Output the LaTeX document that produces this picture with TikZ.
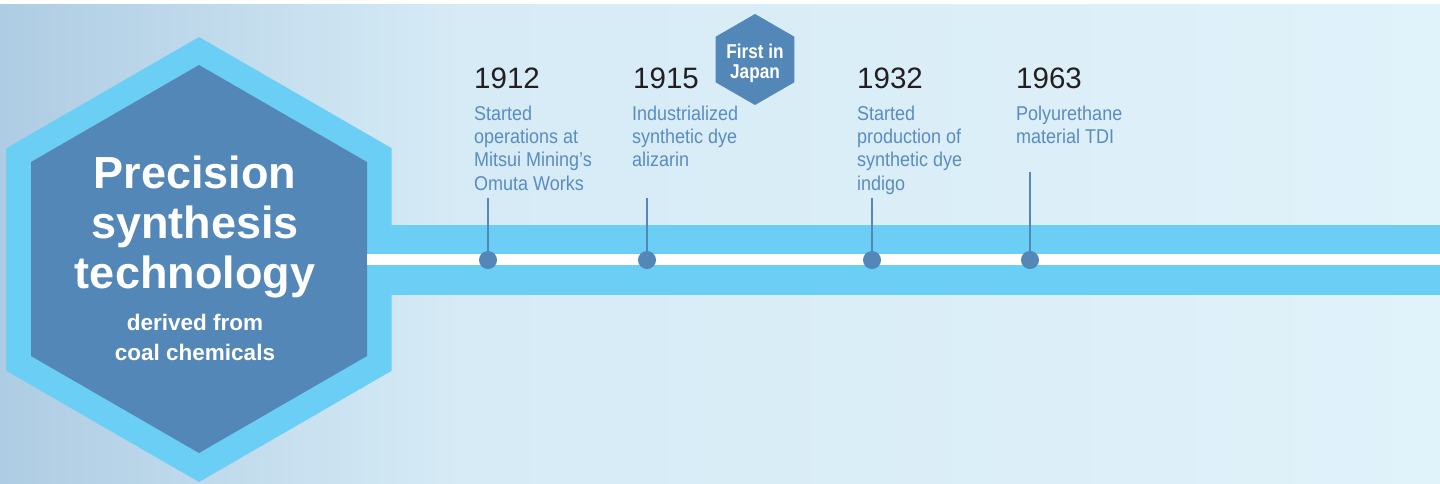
\documentclass[tikz,border=0pt]{standalone}
\usepackage{fontspec}
\setmainfont{Liberation Sans}
\newfontfamily\condfont[FakeStretch=0.9]{Liberation Sans}
\newfontfamily\bcondfont[FakeStretch=0.86]{Liberation Sans}
\definecolor{bgleft}{HTML}{AECCE3}
\definecolor{bgmid}{HTML}{D6EBF6}
\definecolor{bgright}{HTML}{E0F2FA}
\definecolor{lightband}{HTML}{6BCEF4}
\definecolor{darkhex}{HTML}{5387B8}
\definecolor{desccol}{HTML}{5A8CC0}
\definecolor{yearcol}{HTML}{231F20}
\tikzset{
  yearlabel/.style={anchor=base west, inner sep=0pt, text=yearcol, font=\fontsize{29.5}{33}\selectfont},
  desclabel/.style={anchor=north west, inner sep=0pt, align=left, text=desccol, font=\condfont\fontsize{20}{23.3}\selectfont},
  dotmark/.style={circle, fill=darkhex, inner sep=0pt, minimum size=18pt},
  stemline/.style={draw=darkhex, line width=1.5pt},
}
\begin{document}
\begin{tikzpicture}[x=1pt, y=-1pt]
\useasboundingbox (0,0) rectangle (1440,483);
% background
\fill[white] (0,0) rectangle (1440,483);
\shade[left color=bgleft, right color=bgmid] (0,4) rectangle (460,483);
\shade[left color=bgmid, right color=bgright] (459.5,4) rectangle (1440,483);
% outer hexagon
\fill[lightband] (199,37) -- (391.7,148.25) -- (391.7,370.75) -- (199,482) -- (6.3,370.75) -- (6.3,148.25) -- cycle;
% band
\fill[lightband] (385,225) rectangle (1440,295);
% inner hexagon
\fill[darkhex] (199,65) -- (367,162) -- (367,356) -- (199,453) -- (31,356) -- (31,162) -- cycle;
% white line
\fill[white] (367,254) rectangle (1440,265);
% title
\node[anchor=north, inner sep=0pt, align=center, text=white, font=\bfseries\fontsize{45}{50}\selectfont] (title) at (195,155.5) {Precision\\synthesis\\technology};
\node[anchor=north, inner sep=0pt, align=center, text=white, font=\bfseries\fontsize{22.5}{30}\selectfont] (subtitle) at (195,314) {derived from\\coal chemicals};
% first in japan hexagon
\fill[darkhex] (755,14) -- (794.4,36.75) -- (794.4,82.25) -- (755,105) -- (715.6,82.25) -- (715.6,36.75) -- cycle;
\node[anchor=north, inner sep=0pt, align=center, text=white, font=\bcondfont\bfseries\fontsize{20}{20.5}\selectfont] (first) at (755,43.5) {First in\\Japan};
% dots
\node[dotmark] (d1) at (488,260) {};
\node[dotmark] (d2) at (647,260) {};
\node[dotmark] (d3) at (872,260) {};
\node[dotmark] (d4) at (1030,260) {};
\coordinate (t1) at (488,198);
\coordinate (t2) at (647,198);
\coordinate (t3) at (872,198);
\coordinate (t4) at (1030,172);
\draw[stemline] (d1.center) -- (t1);
\draw[stemline] (d2.center) -- (t2);
\draw[stemline] (d3.center) -- (t3);
\draw[stemline] (d4.center) -- (t4);
% years
\node[yearlabel] (y1) at (474,88) {1912};
\node[yearlabel] (y2) at (633,88) {1915};
\node[yearlabel] (y3) at (857,88) {1932};
\node[yearlabel] (y4) at (1016,88) {1963};
% descriptions
\node[desclabel] (e1) at (474,105.5) {Started\\operations at\\Mitsui Mining’s\\Omuta Works};
\node[desclabel] (e2) at (632,105.5) {Industrialized\\synthetic dye\\alizarin};
\node[desclabel] (e3) at (857,105.5) {Started\\production of\\synthetic dye\\indigo};
\node[desclabel] (e4) at (1016,105.5) {Polyurethane\\material TDI};
\end{tikzpicture}
\end{document}
